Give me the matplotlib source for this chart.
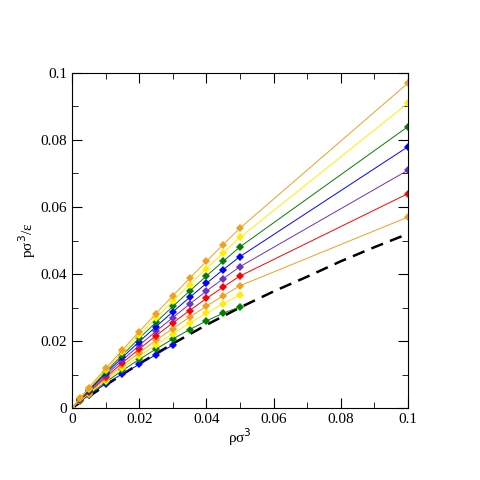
import matplotlib
matplotlib.use("Agg")
import matplotlib.pyplot as plt
from matplotlib.ticker import MultipleLocator, FuncFormatter

x_full = [0, 0.0025, 0.005, 0.01, 0.015, 0.02, 0.025, 0.03, 0.035, 0.04, 0.045, 0.05, 0.1]

orange_top = [0, 0.003, 0.0061, 0.0118, 0.0173, 0.0228, 0.0282, 0.0335, 0.0387, 0.0438, 0.0488, 0.0537, 0.097]
yellow_top = [0, 0.0029, 0.0058, 0.0113, 0.0166, 0.0218, 0.0269, 0.0319, 0.0368, 0.0416, 0.0463, 0.0509, 0.091]
green_top = [0, 0.0028, 0.0055, 0.0108, 0.0158, 0.0208, 0.0256, 0.0303, 0.0349, 0.0394, 0.0438, 0.0481, 0.084]
blue_top = [0, 0.0027, 0.0052, 0.0103, 0.0151, 0.0198, 0.0243, 0.0287, 0.0330, 0.0372, 0.0413, 0.0452, 0.078]
purple = [0, 0.0025, 0.005, 0.0098, 0.0143, 0.0187, 0.0229, 0.0270, 0.0310, 0.0349, 0.0386, 0.0422, 0.071]
red = [0, 0.0024, 0.0047, 0.0092, 0.0135, 0.0176, 0.0216, 0.0254, 0.0291, 0.0327, 0.0361, 0.0394, 0.064]
orange_low = [0, 0.0023, 0.0045, 0.0087, 0.0127, 0.0165, 0.0202, 0.0237, 0.0271, 0.0304, 0.0335, 0.0365, 0.057]
yellow_low = [0, 0.0022, 0.0043, 0.0082, 0.0119, 0.0155, 0.0189, 0.0222, 0.0253, 0.0283, 0.0311, 0.0338]
green_low = [0, 0.0021, 0.004, 0.0077, 0.0112, 0.0145, 0.0176, 0.0206, 0.0234, 0.026, 0.0283, 0.0302]
blue_low = [0, 0.002, 0.0038, 0.0072, 0.0102, 0.0130, 0.0159, 0.0188]

dash_x = [0, 0.01, 0.02, 0.03, 0.04, 0.05, 0.06, 0.07, 0.08, 0.09, 0.1]
dash_y = [0, 0.0068, 0.0132, 0.0192, 0.0248, 0.030, 0.0348, 0.0392, 0.0438, 0.048, 0.052]

series = [
    (blue_low, "#0000ff"),
    (green_low, "#008000"),
    (yellow_low, "#ffee00"),
    (orange_low, "#f0a020"),
    (red, "#ff0000"),
    (purple, "#7030c0"),
    (blue_top, "#0000ff"),
    (green_top, "#008000"),
    (yellow_top, "#ffee00"),
    (orange_top, "#f0a020"),
]

plt.rcParams["font.family"] = ["Liberation Serif", "DejaVu Serif"]
fig = plt.figure(figsize=(4.8, 4.8), dpi=100)
ax = fig.add_axes([72 / 480, 72 / 480, 336 / 480, 335 / 480])

ax.plot(dash_x, dash_y, color="black", linestyle="--", linewidth=1.8, dashes=(5, 3), zorder=1)
for ys, col in series:
    ax.plot(x_full[:len(ys)], ys, color=col, linewidth=0.7, marker="D", markersize=4.5,
            markeredgewidth=0, zorder=2)

ax.set_xlim(0, 0.1)
ax.set_ylim(0, 0.1)
ax.xaxis.set_major_locator(MultipleLocator(0.02))
ax.xaxis.set_minor_locator(MultipleLocator(0.01))
ax.yaxis.set_major_locator(MultipleLocator(0.02))
ax.yaxis.set_minor_locator(MultipleLocator(0.01))
fmt = FuncFormatter(lambda v, p: "0" if abs(v) < 1e-9 else "%g" % round(v, 3))
ax.xaxis.set_major_formatter(fmt)
ax.yaxis.set_major_formatter(fmt)
ax.tick_params(which="both", direction="in", top=True, right=True, labelsize=11)
ax.tick_params(which="major", length=7)
ax.tick_params(which="minor", length=4)
ax.set_xlabel("ρσ$^3$", fontsize=11, labelpad=0)
ax.set_ylabel("pσ$^3$/ε", fontsize=11, labelpad=2)

fig.savefig("out.png", dpi=100)
